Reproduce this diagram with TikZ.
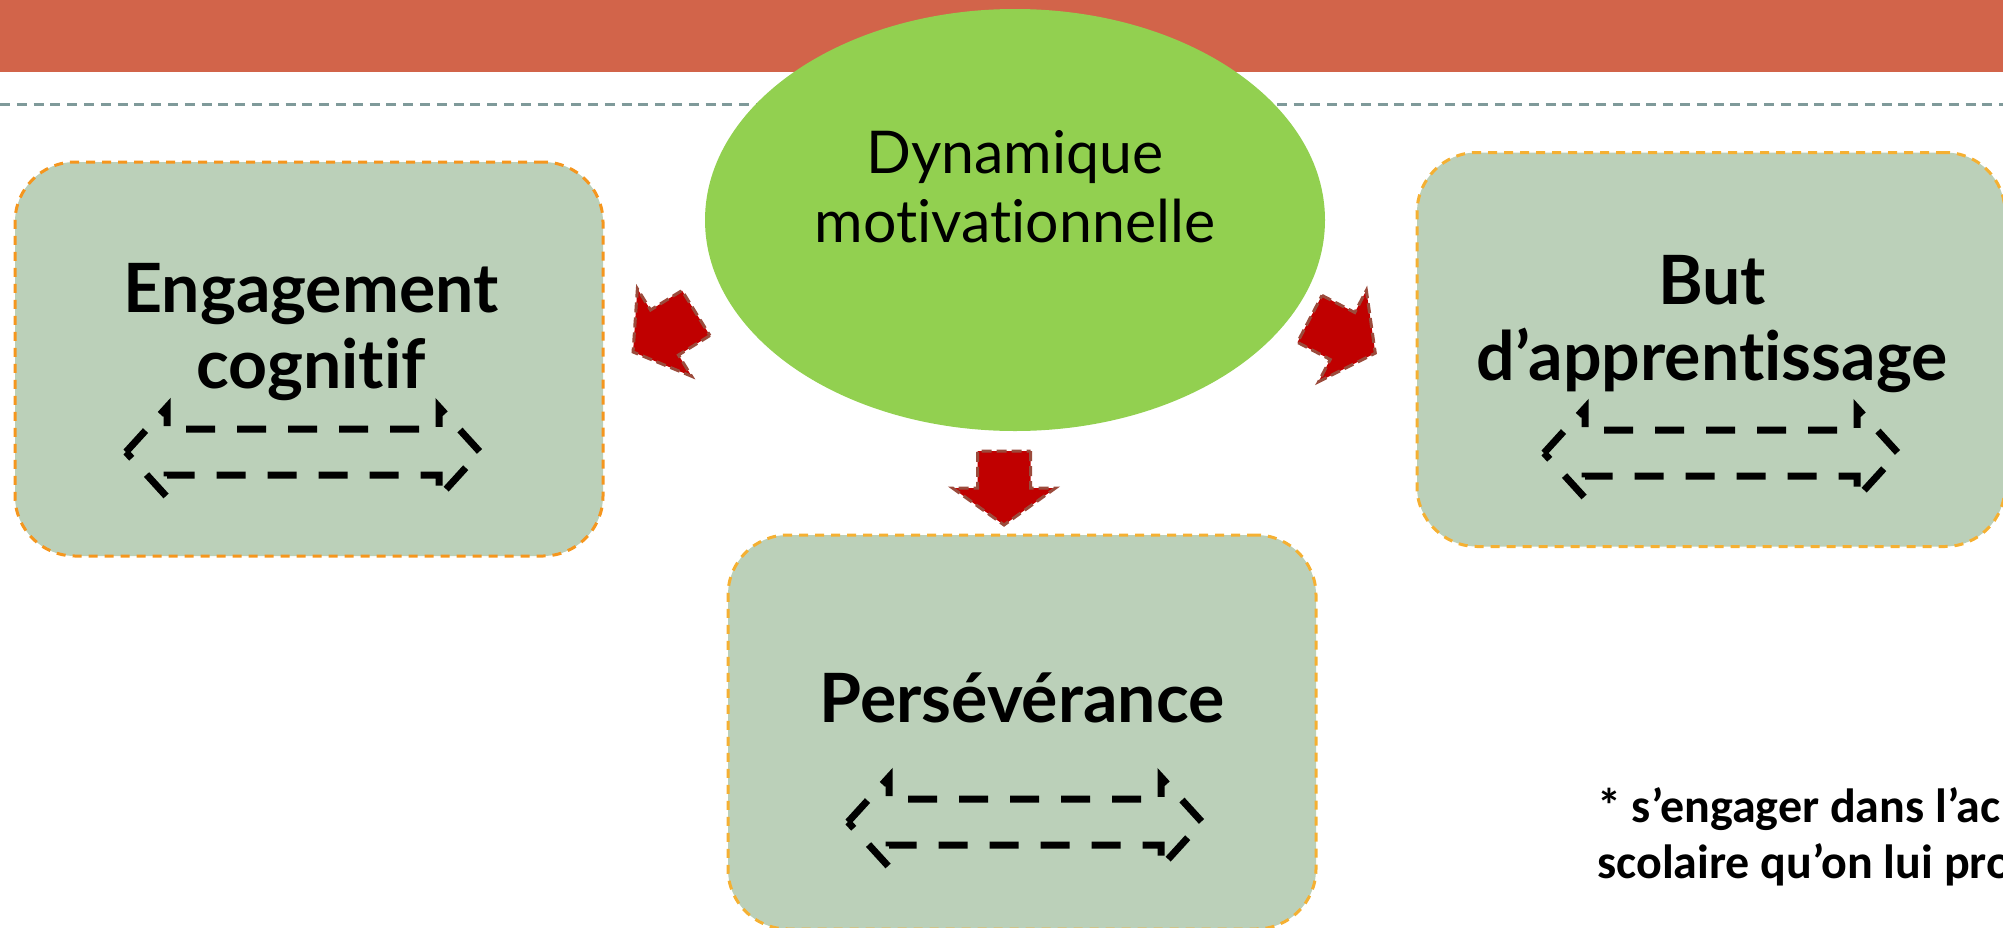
\documentclass[tikz,border=0pt]{standalone}
\usepackage{fontspec}
\setmainfont{Lato}[Ligatures=NoCommon]
\newfontfamily\notefont{Carlito}
\usetikzlibrary{shapes.geometric}
\definecolor{barred}{RGB}{210,100,74}
\definecolor{rulegray}{RGB}{127,154,154}
\definecolor{boxgreen}{RGB}{187,208,185}
\definecolor{ovalgreen}{RGB}{146,208,80}
\definecolor{edgeorange}{RGB}{245,150,30}
\definecolor{edgeyellow}{RGB}{245,176,50}
\definecolor{arrowred}{RGB}{192,0,0}
\definecolor{arrowedge}{RGB}{155,75,60}
\tikzset{
  goalbox/.style={draw=edgeyellow, line width=3pt, dash pattern=on 9pt off 7pt,
    fill=boxgreen, rounded corners=60pt, minimum width=588pt, minimum height=394pt},
  boxtext/.style={font=\bfseries\fontsize{68}{76}\selectfont, align=center, anchor=base, inner sep=0pt},
  redarrow/.pic={
    \draw[fill=arrowred, draw=arrowedge, line width=3pt, dash pattern=on 10pt off 5pt]
      (-37,-26.5) -- (0,-26.5) -- (0,-51.5) -- (37,0) -- (0,51.5) -- (0,26.5) -- (-37,26.5) -- cycle;},
  twoway/.pic={
    \draw[line width=7pt, dash pattern=on 29pt off 22pt]
      (-177,0) -- (-136,-45) -- (-136,-23) -- (136,-23) -- (136,-45) -- (177,0)
      -- (136,45) -- (136,23) -- (-136,23) -- (-136,45) -- cycle;}
}
\begin{document}
\begin{tikzpicture}[x=1pt,y=-1pt]
  \useasboundingbox (0,0) rectangle (2003,927);
  \clip (0,0) rectangle (2003,927);
  % title bar and rule
  \fill[barred] (0,0) rectangle (2003,72);
  \draw[rulegray, line width=3pt, dash pattern=on 10pt off 6.8pt] (0,104) -- (2003,104);
  % the three boxes
  \node[goalbox, draw=edgeorange] (engage) at (309,359) {};
  \node[goalbox] (goal) at (1711,349.5) {};
  \node[goalbox] (persev) at (1022,732) {};
  \node[boxtext] (engagetxt) at (311,388) {Engagement\\cognitif};
  \node[boxtext] (goaltxt) at (1712,380) {But\\d’apprentissage};
  \node[boxtext] (persevtxt) at (1022,722) {Persévérance};
  \pic at (303,452) {twoway};
  \pic at (1721,453) {twoway};
  \pic at (1025,822) {twoway};
  % centre oval
  \node[ellipse, fill=ovalgreen, minimum width=620pt, minimum height=422pt] (dyn) at (1015,220) {};
  \node[font=\fontsize{59}{69}\selectfont, align=center, anchor=base, inner sep=0pt] (dyntxt)
    at (1015,242) {Dynamique\\motivationnelle};
  % block arrows
  \pic[rotate=211.8] at (664.5,332.5) {redarrow};
  \pic[rotate=-27.6] at (1342.5,336) {redarrow};
  \pic[rotate=-90] at (1004,488) {redarrow};
  \node[font=\notefont\bfseries\fontsize{48}{56}\selectfont, align=left, anchor=base west, inner sep=0pt]
    (note) at (1597,878) {* s’engager dans l’ac\\scolaire qu’on lui pro};
\end{tikzpicture}
\end{document}
